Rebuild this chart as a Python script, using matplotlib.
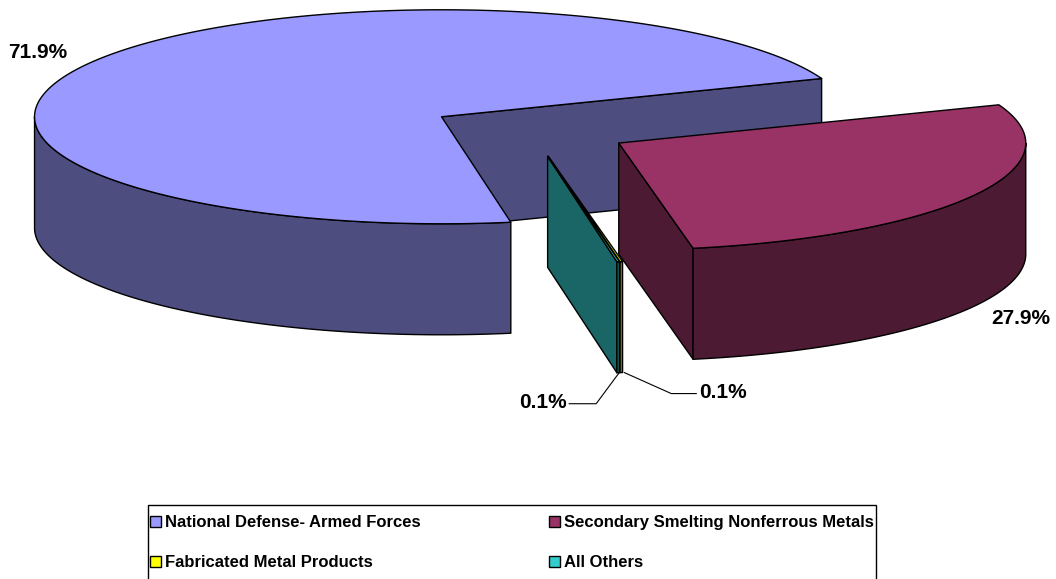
import numpy as np
import matplotlib
matplotlib.use("Agg")
import matplotlib.pyplot as plt
from matplotlib.patches import Polygon, Patch, Rectangle

# ---- data -------------------------------------------------------------
categories = ["National Defense- Armed Forces",
              "Secondary Smelting Nonferrous Metals",
              "Fabricated Metal Products",
              "All Others"]
shares = [71.9, 27.9, 0.1, 0.1]
top_colors = ["#9999FF", "#993366", "#FFFF00", "#33CCCC"]
side_colors = ["#4D4D80", "#4D1A33", "#808000", "#1A6666"]

FONT = "Liberation Sans"

# ---- canvas (pixel coordinates, y pointing down) ----------------------
W, H = 1056, 579
fig = plt.figure(figsize=(W / 100, H / 100), dpi=100)
ax = fig.add_axes([0, 0, 1, 1])
ax.set_xlim(0, W)
ax.set_ylim(H, 0)
ax.axis("off")

# ---- 3-D pie geometry -------------------------------------------------
CX, CY = 530.0, 130.0      # centre of the top ellipse
RX, RY = 407.0, 107.0      # ellipse radii
DEPTH = 111.0              # thickness of the pie
EXPLODE = 0.25             # radial offset of every slice (fraction of radius)
START = 170.2              # first slice starts here (deg, clockwise from 12 o'clock)
EDGE = dict(edgecolor="black", linewidth=1.0, joinstyle="round")


def proj(theta, r, z, off):
    t = np.radians(theta)
    x = CX + off[0] + r * RX * np.sin(t)
    y = CY + off[1] - r * RY * np.cos(t) + z * DEPTH
    return x, y


values = np.array(shares, dtype=float)
spans = values / values.sum() * 360.0
starts = START + np.concatenate([[0.0], np.cumsum(spans)[:-1]])

slices = []
for i, (a0, sp) in enumerate(zip(starts, spans)):
    a1 = a0 + sp
    mid = np.radians(a0 + sp / 2)
    off = (EXPLODE * RX * np.sin(mid), -EXPLODE * RY * np.cos(mid))
    slices.append(dict(i=i, a0=a0, a1=a1, off=off, depth=-np.cos(mid)))

# back-to-front drawing order
slices.sort(key=lambda s: s["depth"])

for s in slices:
    i, a0, a1, off = s["i"], s["a0"], s["a1"], s["off"]

    # radial walls facing the viewer
    for a, visible in ((a0, np.sin(np.radians(a0)) < 0),
                       (a1, np.sin(np.radians(a1)) > 0)):
        if visible:
            p_top_c = proj(a, 0, 0, off)
            p_top_r = proj(a, 1, 0, off)
            p_bot_r = proj(a, 1, 1, off)
            p_bot_c = proj(a, 0, 1, off)
            ax.add_patch(Polygon([p_top_c, p_top_r, p_bot_r, p_bot_c],
                                 closed=True, facecolor=side_colors[i], **EDGE))

    # outer curved wall (front half only)
    for k in range(-1, 3):
        lo = max(a0, 90 + 360 * k)
        hi = min(a1, 270 + 360 * k)
        if hi > lo:
            th = np.linspace(lo, hi, 200)
            xt, yt = proj(th, 1, 0, off)
            xb, yb = proj(th[::-1], 1, 1, off)
            pts = np.column_stack([np.concatenate([xt, xb]),
                                   np.concatenate([yt, yb])])
            ax.add_patch(Polygon(pts, closed=True,
                                 facecolor=side_colors[i], **EDGE))

    # top face
    th = np.linspace(a0, a1, max(3, int((a1 - a0) * 3)))
    xt, yt = proj(th, 1, 0, off)
    xc, yc = proj(a0, 0, 0, off)
    pts = np.column_stack([np.concatenate([[xc], xt]),
                           np.concatenate([[yc], yt])])
    ax.add_patch(Polygon(pts, closed=True, facecolor=top_colors[i], **EDGE))

# ---- value labels -----------------------------------------------------
label_font = dict(family=FONT, weight="bold", size=15, ha="center", va="center")
labels = [f"{v:.1f}%" for v in shares]
by_idx = {s["i"]: s for s in slices}

ax.text(38, 53, labels[0], **label_font)
ax.text(1021, 318, labels[1], **label_font)

# leader lines for the two thin slices
sy = by_idx[2]
xs, ys = proj((sy["a0"] + sy["a1"]) / 2, 1, 1, sy["off"])
ax.plot([xs + 3, xs + 50, xs + 75], [ys, ys + 21, ys + 21],
        color="black", lw=0.8)
ax.text(723, 393, labels[2], **label_font)

st = by_idx[3]
xs, ys = proj((st["a0"] + st["a1"]) / 2, 1, 1, st["off"])
ax.plot([xs + 1, xs - 22, xs - 49], [ys, ys + 31, ys + 31],
        color="black", lw=0.8)
ax.text(543, 403, labels[3], **label_font)

# ---- legend -----------------------------------------------------------
# frame runs off the bottom edge of the canvas
ax.add_patch(Rectangle((148, 505), 876 - 148, 120, facecolor="white",
                       edgecolor="black", linewidth=1.0, zorder=0.5))

handles = [Patch(facecolor=c, edgecolor="black", linewidth=1.0) for c in top_colors]
order = [0, 2, 1, 3]
leg = fig.legend([handles[j] for j in order], [categories[j] for j in order],
                 loc="upper left", bbox_to_anchor=(140 / W, 1 - 505 / H),
                 ncol=2, frameon=False,
                 prop=dict(family=FONT, weight="bold", size=12),
                 handlelength=0.66, handleheight=0.66, handletextpad=0.25,
                 columnspacing=7.7, labelspacing=1.52, borderpad=0.6,
                 borderaxespad=0)

fig.savefig("out.png", dpi=100)
